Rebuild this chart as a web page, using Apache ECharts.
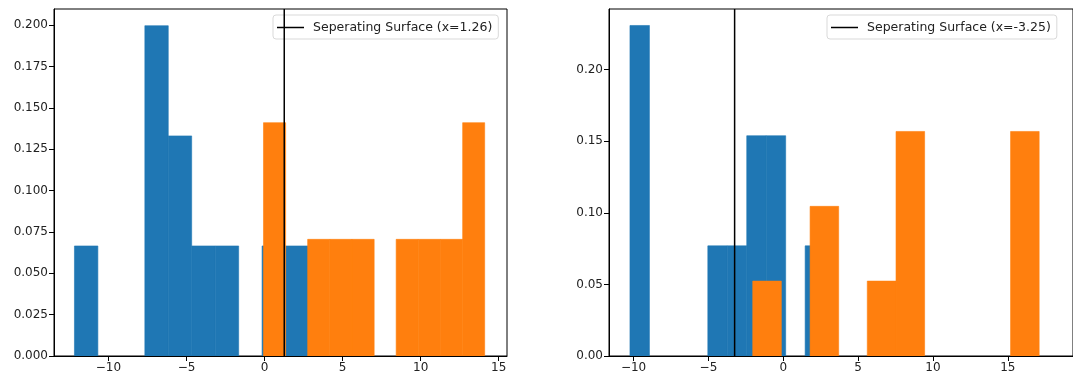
<!DOCTYPE html>
<html>
<head>
<meta charset="utf-8">
<script src="https://cdn.jsdelivr.net/npm/echarts@6/dist/echarts.min.js"></script>
<style>
  html, body { margin: 0; padding: 0; background: #fff; }
  #chart { width: 1073px; height: 381px; }
</style>
</head>
<body>
<div id="chart"></div>
<script>
// left panel
const leftBlueEdges = [-12.18, -10.68, -9.17, -7.67, -6.17, -4.67, -3.16, -1.66, -0.16, 1.35, 2.85];
const leftBlueDensity = [0.0665, 0, 0, 0.1996, 0.133, 0.0665, 0.0665, 0, 0.0665, 0.0665];
const leftOrangeEdges = [-0.07, 1.35, 2.76, 4.18, 5.60, 7.02, 8.43, 9.85, 11.27, 12.69, 14.10];
const leftOrangeDensity = [0.141, 0, 0.0705, 0.0705, 0.0705, 0, 0.0705, 0.0705, 0.0705, 0.141];
const leftSeparator = 1.26;

// right panel
const rightBlueEdges = [-10.24, -8.94, -7.64, -6.34, -5.04, -3.74, -2.44, -1.14, 0.16, 1.46, 2.76];
const rightBlueDensity = [0.2308, 0, 0, 0, 0.0769, 0.0769, 0.1538, 0.1538, 0, 0.0769];
const rightOrangeEdges = [-2.04, -0.13, 1.79, 3.70, 5.61, 7.53, 9.44, 11.35, 13.26, 15.18, 17.09];
const rightOrangeDensity = [0.0523, 0, 0.1045, 0, 0.0523, 0.1568, 0, 0, 0, 0.1568];
const rightSeparator = -3.25;

const xTicks = [-10, -5, 0, 5, 10, 15];
const leftYTicks = [0, 0.025, 0.05, 0.075, 0.1, 0.125, 0.15, 0.175, 0.2];
const rightYTicks = [0, 0.05, 0.1, 0.15, 0.2];

const BLUE = "#1f77b4";
const ORANGE = "#ff7f0e";
const FONT = "DejaVu Sans";

function histSeries(edges, heights, color, idx) {
  return {
    type: "custom",
    xAxisIndex: idx,
    yAxisIndex: idx,
    clip: true,
    silent: true,
    encode: { x: [0, 1], y: 2 },
    data: heights.map((h, i) => [edges[i], edges[i + 1], h]),
    renderItem: (params, api) => {
      if (!api.value(2)) return;
      const p0 = api.coord([api.value(0), 0]);
      const p1 = api.coord([api.value(1), api.value(2)]);
      return {
        type: "rect",
        shape: { x: p0[0], y: p1[1], width: p1[0] - p0[0], height: p0[1] - p1[1] },
        style: { fill: color, stroke: color, lineWidth: 0.6 },
      };
    },
  };
}

function sepName(x) {
  return "Seperating Surface (x=" + x + ")";
}

function sepSeries(x, yMax, idx) {
  return {
    name: sepName(x),
    type: "line",
    xAxisIndex: idx,
    yAxisIndex: idx,
    symbol: "none",
    z: 5,
    lineStyle: { color: "#000", width: 1.5 },
    itemStyle: { color: "#000" },
    data: [[x, 0], [x, yMax]],
  };
}

const minus = (v) => String(v).replace("-", "\u2212");

function xAxis(idx, min, max) {
  return {
    type: "value",
    gridIndex: idx,
    min: min,
    max: max,
    splitLine: { show: false },
    axisLine: { show: true, onZero: false, lineStyle: { color: "#000", width: 1 } },
    axisTick: { show: true, length: 5, lineStyle: { color: "#000" }, customValues: xTicks },
    axisLabel: {
      color: "#222", fontSize: 12, fontFamily: FONT, margin: 6,
      customValues: xTicks, formatter: minus,
    },
  };
}

function yAxis(idx, max, ticks, digits) {
  return {
    type: "value",
    gridIndex: idx,
    min: 0,
    max: max,
    splitLine: { show: false },
    axisLine: { show: true, onZero: false, lineStyle: { color: "#000", width: 1 } },
    axisTick: { show: true, length: 5, lineStyle: { color: "#000" }, customValues: ticks },
    axisLabel: {
      color: "#222", fontSize: 12, fontFamily: FONT, margin: 6,
      customValues: ticks, formatter: (v) => v.toFixed(digits),
    },
  };
}

function legend(left, name) {
  return {
    left: left,
    top: 15,
    orient: "vertical",
    data: [{ name: name, icon: "rect", itemStyle: { color: "#000" } }],
    itemWidth: 27,
    itemHeight: 1.5,
    itemGap: 4,
    padding: [6, 6, 5, 4],
    borderColor: "#d9d9d9",
    borderWidth: 1,
    borderRadius: 3,
    backgroundColor: "rgba(255,255,255,0.8)",
    textStyle: { color: "#222", fontSize: 12.5, fontFamily: FONT, padding: [0, 0, 0, 4] },
  };
}

const leftYMax = 0.2097;
const rightYMax = 0.2423;

const option = {
  animation: false,
  backgroundColor: "#fff",
  grid: [
    { left: 54, top: 9, width: 453, height: 347, show: true, borderColor: "#000", borderWidth: 1 },
    { left: 609, top: 9, width: 471, height: 347, show: true, borderColor: "#000", borderWidth: 1 },
  ],
  xAxis: [xAxis(0, -13.49, 15.53), xAxis(1, -11.64, 19.35)],
  yAxis: [yAxis(0, leftYMax, leftYTicks, 3), yAxis(1, rightYMax, rightYTicks, 2)],
  legend: [legend(273, sepName(leftSeparator)), legend(827, sepName(rightSeparator))],
  series: [
    histSeries(leftBlueEdges, leftBlueDensity, BLUE, 0),
    histSeries(leftOrangeEdges, leftOrangeDensity, ORANGE, 0),
    sepSeries(leftSeparator, leftYMax, 0),
    histSeries(rightBlueEdges, rightBlueDensity, BLUE, 1),
    histSeries(rightOrangeEdges, rightOrangeDensity, ORANGE, 1),
    sepSeries(rightSeparator, rightYMax, 1),
  ],
};

const myChart = echarts.init(document.getElementById("chart"));
myChart.setOption(option);
</script>
</body>
</html>
